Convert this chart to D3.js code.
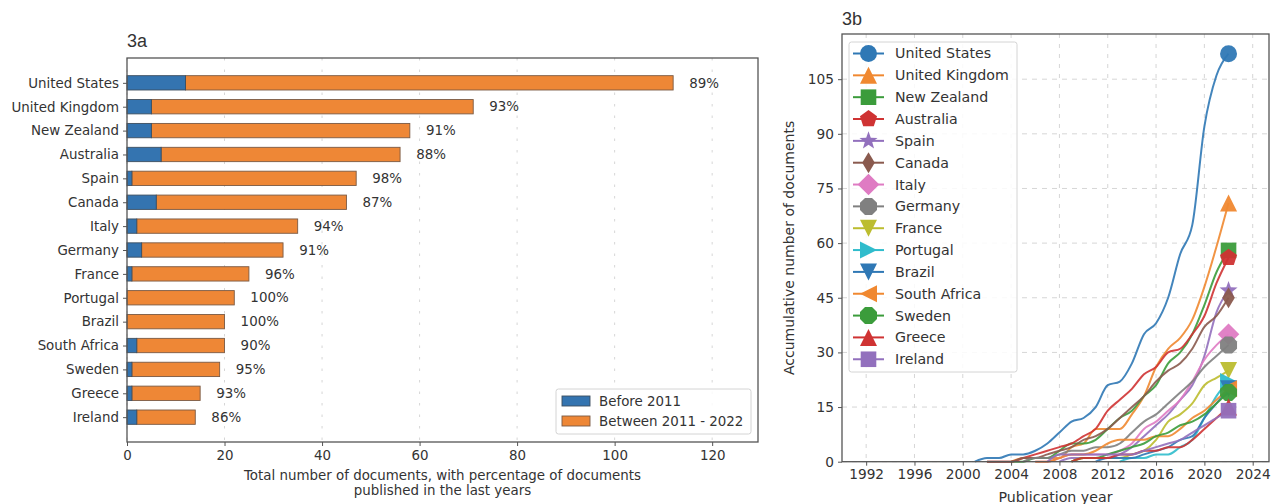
<!DOCTYPE html>
<html>
<head>
<meta charset="utf-8">
<script src="https://cdn.jsdelivr.net/npm/d3@7"></script>
<style>
  html, body { margin: 0; padding: 0; background: #fff; }
  svg { display: block; }
  text { font-family: "DejaVu Sans", sans-serif; fill: #333; }
</style>
</head>
<body>
<svg id="chart" width="1280" height="504"></svg>
<script>
// ---- 3a: documents per country ----
const countries = ["United States", "United Kingdom", "New Zealand", "Australia", "Spain",
  "Canada", "Italy", "Germany", "France", "Portugal", "Brazil", "South Africa",
  "Sweden", "Greece", "Ireland"];
const totalDocs = [112, 71, 58, 56, 47, 45, 35, 32, 25, 22, 20, 20, 19, 15, 14];
const before2011 = [12, 5, 5, 7, 1, 6, 2, 3, 1, 0, 0, 2, 1, 1, 2];
const barTicks = [0, 20, 40, 60, 80, 100, 120];

// ---- 3b: accumulative documents per year ----
const years = [2001, 2002, 2003, 2004, 2005, 2006, 2007, 2008, 2009, 2010, 2011,
  2012, 2013, 2014, 2015, 2016, 2017, 2018, 2019, 2020, 2021, 2022];
const cumUnitedStates = [0, 1, 1, 2, 2, 3, 5, 8, 11, 12, 15, 21, 22, 27, 35, 38, 45, 57, 65, 92, 106, 112];
const cumUnitedKingdom = [null, null, null, 0, 1, 1, 1, 1, 4, 5, 9, 9, 9, 13, 18, 26, 31, 34, 39, 48, 59, 71];
const cumNewZealand = [null, null, null, 0, 0, 1, 1, 3, 5, 5, 6, 9, 12, 14, 18, 21, 27, 30, 35, 43, 52, 58];
const cumAustralia = [null, 0, 0, 0, 1, 2, 3, 4, 5, 7, 9, 14, 17, 20, 24, 26, 30, 31, 35, 40, 49, 56];
const cumSpain = [null, null, null, null, null, null, null, 0, 1, 1, 1, 1, 2, 4, 7, 10, 13, 17, 21, 29, 41, 47];
const cumCanada = [null, 0, 0, 0, 1, 1, 2, 3, 4, 6, 7, 9, 12, 15, 18, 22, 25, 27, 31, 37, 40, 45];
const cumItaly = [null, null, null, null, null, 0, 0, 1, 2, 2, 2, 2, 3, 5, 9, 11, 14, 17, 22, 28, 32, 35];
const cumGermany = [null, null, null, null, 0, 1, 1, 2, 3, 3, 4, 4, 5, 8, 11, 13, 16, 19, 22, 26, 29, 32];
const cumFrance = [null, null, null, null, null, null, null, null, 0, 1, 1, 1, 1, 2, 3, 6, 11, 13, 16, 21, 23, 25];
const cumPortugal = [null, null, null, null, null, null, null, null, null, null, null, null, 0, 1, 1, 2, 2, 4, 6, 12, 18, 22];
const cumBrazil = [null, null, null, null, null, null, null, null, null, null, 0, 1, 1, 1, 2, 3, 4, 6, 7, 12, 16, 20];
const cumSouthAfrica = [null, null, null, null, null, 0, 0, 1, 2, 2, 3, 5, 6, 6, 6, 7, 7, 9, 12, 14, 17, 20];
const cumSweden = [null, null, null, null, null, null, null, null, 0, 1, 1, 2, 3, 4, 5, 7, 8, 10, 11, 13, 16, 19];
const cumGreece = [null, null, null, null, null, null, null, null, 0, 1, 1, 1, 2, 2, 3, 3, 4, 4, 6, 9, 12, 15];
const cumIreland = [null, null, null, null, null, null, 0, 2, 2, 2, 2, 2, 2, 2, 3, 4, 5, 6, 8, 10, 12, 14];
const yearTicks = [1992, 1996, 2000, 2004, 2008, 2012, 2016, 2020, 2024];
const countTicks = [0, 15, 30, 45, 60, 75, 90, 105];

const seriesValues = [cumUnitedStates, cumUnitedKingdom, cumNewZealand, cumAustralia, cumSpain,
  cumCanada, cumItaly, cumGermany, cumFrance, cumPortugal, cumBrazil, cumSouthAfrica,
  cumSweden, cumGreece, cumIreland];
const markerKinds = ["o", "^", "s", "p", "*", "d", "D", "8", "v", ">", "v", "<", "8", "^", "s"];
const palette = ["#2f78b5", "#f08830", "#3b9c3b", "#cf3333", "#9270bd", "#8a5a4e", "#df7bc3",
  "#808080", "#bcbd2f", "#2fbccc"];

const svg = d3.select("#chart");
const AXIS = "#555";

// ---------- marker shapes ----------
function polygon(points) {
  return "M" + points.map(p => p[0].toFixed(2) + "," + p[1].toFixed(2)).join("L") + "Z";
}
function regular(n, r, rot) {
  const pts = [];
  for (let i = 0; i < n; i++) {
    const a = rot + i * 2 * Math.PI / n;
    pts.push([r * Math.sin(a), -r * Math.cos(a)]);
  }
  return pts;
}
function markerPath(kind) {
  const h = 8.5;
  switch (kind) {
    case "o": return d3.symbol(d3.symbolCircle, Math.PI * h * h)();
    case "^": return polygon([[0, -h], [-h, h], [h, h]]);
    case "v": return polygon([[0, h], [-h, -h], [h, -h]]);
    case ">": return polygon([[h, 0], [-h, -h], [-h, h]]);
    case "<": return polygon([[-h, 0], [h, -h], [h, h]]);
    case "s": return polygon([[-7.8, -7.8], [7.8, -7.8], [7.8, 7.8], [-7.8, 7.8]]);
    case "p": return polygon(regular(5, 9, 0));
    case "*": {
      const pts = [];
      for (let i = 0; i < 10; i++) {
        const r = i % 2 === 0 ? 9.5 : 3.9;
        const a = i * Math.PI / 5;
        pts.push([r * Math.sin(a), -r * Math.cos(a)]);
      }
      return polygon(pts);
    }
    case "d": return polygon([[0, -10.5], [6.3, 0], [0, 10.5], [-6.3, 0]]);
    case "D": return polygon([[0, -10.8], [10.8, 0], [0, 10.8], [-10.8, 0]]);
    case "8": return polygon(regular(8, 9.2, Math.PI / 8));
  }
}

// =================== 3a ===================
{
  const left = 127, right = 758, top = 58, bottom = 442;
  const FS = 13.4;
  const x = d3.scaleLinear().domain([0, 129.4]).range([left, right]);
  const y = d3.scaleLinear().domain([-1.04, countries.length - 1 + 1.04]).range([top, bottom]);
  const step = y(1) - y(0);
  const barH = step * 0.6;

  const g = svg.append("g");

  // vertical grid
  g.append("g").selectAll("line").data(barTicks).join("line")
    .attr("x1", d => x(d)).attr("x2", d => x(d))
    .attr("y1", top).attr("y2", bottom)
    .attr("stroke", "#d6d6d6").attr("stroke-width", 1)
    .attr("stroke-dasharray", "2.5,9");

  const rows = countries.map((c, i) => ({
    c, i, total: totalDocs[i], before: before2011[i], after: totalDocs[i] - before2011[i]
  }));

  // later period, stacked after the earlier one
  g.append("g").selectAll("rect").data(rows).join("rect")
    .attr("x", d => x(d.before)).attr("width", d => x(d.total) - x(d.before))
    .attr("y", d => y(d.i) - barH / 2).attr("height", barH)
    .attr("fill", "#ee8736").attr("stroke", "#7a5a44").attr("stroke-width", 0.9);
  g.append("g").selectAll("rect").data(rows.filter(d => d.before > 0)).join("rect")
    .attr("x", x(0)).attr("width", d => x(d.before) - x(0))
    .attr("y", d => y(d.i) - barH / 2).attr("height", barH)
    .attr("fill", "#3474b0").attr("stroke", "#3d4f60").attr("stroke-width", 0.9);

  // share published in the last years
  g.append("g").selectAll("text").data(rows).join("text")
    .attr("x", d => x(d.total + 3.3)).attr("y", d => y(d.i))
    .attr("dy", "0.35em").attr("font-size", FS)
    .text(d => Math.round(d.after / d.total * 100) + "%");

  // axes
  const xAxis = g.append("g").attr("transform", `translate(0,${bottom})`)
    .call(d3.axisBottom(x).tickValues(barTicks).tickSize(4).tickPadding(4));
  const yAxis = g.append("g").attr("transform", `translate(${left},0)`)
    .call(d3.axisLeft(y).tickValues(d3.range(countries.length)).tickFormat(i => countries[i])
      .tickSize(4).tickPadding(4));
  [xAxis, yAxis].forEach(a => {
    a.select(".domain").remove();
    a.selectAll("line").attr("stroke", AXIS);
    a.selectAll("text").attr("font-size", FS).attr("fill", "#333")
      .style("font-family", "DejaVu Sans");
  });

  g.append("rect").attr("x", left).attr("y", top).attr("width", right - left)
    .attr("height", bottom - top).attr("fill", "none").attr("stroke", AXIS).attr("stroke-width", 1.3);

  // legend
  const lg = g.append("g").attr("transform", "translate(556,389)");
  lg.append("rect").attr("width", 195).attr("height", 45).attr("rx", 2.5)
    .attr("fill", "#fff").attr("fill-opacity", 0.85).attr("stroke", "#d4d4d4");
  [["Before 2011", "#3474b0", "#3d4f60"], ["Between 2011 - 2022", "#ee8736", "#7a5a44"]]
    .forEach(([label, fill, edge], k) => {
      lg.append("rect").attr("x", 6).attr("y", 7 + k * 20).attr("width", 28).attr("height", 10)
        .attr("fill", fill).attr("stroke", edge).attr("stroke-width", 0.9);
      lg.append("text").attr("x", 43).attr("y", 12 + k * 20).attr("dy", "0.35em")
        .attr("font-size", FS).text(label);
    });

  g.append("text").attr("x", left).attr("y", 47)
    .style("font-family", "Liberation Sans, Arial, sans-serif").attr("font-size", 18)
    .attr("fill", "#222").text("3a");

  const xl = g.append("text").attr("text-anchor", "middle").attr("font-size", 13.4);
  xl.append("tspan").attr("x", (left + right) / 2).attr("y", 480)
    .text("Total number of documents, with percentage of documents");
  xl.append("tspan").attr("x", (left + right) / 2).attr("y", 495)
    .text("published in the last years");
}

// =================== 3b ===================
{
  const left = 842, right = 1269, top = 34, bottom = 461.7;
  const x = d3.scaleLinear().domain([1990, 2025.35]).range([left, right]);
  const y = d3.scaleLinear().domain([0, 117.4]).range([bottom, top]);

  const g = svg.append("g");

  g.append("g").selectAll("line").data(yearTicks).join("line")
    .attr("x1", d => x(d)).attr("x2", d => x(d)).attr("y1", top).attr("y2", bottom)
    .attr("stroke", "#d6d6d6").attr("stroke-dasharray", "4,6");
  g.append("g").selectAll("line").data(countTicks).join("line")
    .attr("y1", d => y(d)).attr("y2", d => y(d)).attr("x1", left).attr("x2", right)
    .attr("stroke", "#d6d6d6").attr("stroke-dasharray", "5,5");

  const line = d3.line()
    .defined(d => d.v !== null)
    .x(d => x(d.year)).y(d => y(d.v))
    .curve(d3.curveMonotoneX);

  const series = countries.map((c, i) => ({
    c, i, color: palette[i % palette.length], kind: markerKinds[i],
    pts: years.map((yr, k) => ({ year: yr, v: seriesValues[i][k] }))
  }));

  series.forEach(s => {
    g.append("path").datum(s.pts).attr("d", line)
      .attr("fill", "none").attr("stroke", s.color).attr("stroke-width", 2)
      .attr("stroke-opacity", 0.9).attr("stroke-linejoin", "round");
  });
  series.forEach(s => {
    const last = s.pts[s.pts.length - 1];
    g.append("path").attr("d", markerPath(s.kind))
      .attr("transform", `translate(${x(last.year)},${y(last.v)})`)
      .attr("fill", s.color).attr("fill-opacity", 0.95);
  });

  const xAxis = g.append("g").attr("transform", `translate(0,${bottom})`)
    .call(d3.axisBottom(x).tickValues(yearTicks).tickFormat(d3.format("d")).tickSize(4).tickPadding(4));
  const yAxis = g.append("g").attr("transform", `translate(${left},0)`)
    .call(d3.axisLeft(y).tickValues(countTicks).tickSize(4).tickPadding(4));
  [xAxis, yAxis].forEach(a => {
    a.select(".domain").remove();
    a.selectAll("line").attr("stroke", AXIS);
    a.selectAll("text").attr("font-size", 13.7).attr("fill", "#333")
      .style("font-family", "DejaVu Sans");
  });

  g.append("rect").attr("x", left).attr("y", top).attr("width", right - left)
    .attr("height", bottom - top).attr("fill", "none").attr("stroke", AXIS).attr("stroke-width", 1.3);

  // legend
  const lg = g.append("g").attr("transform", "translate(849,42)");
  lg.append("rect").attr("width", 168).attr("height", 330).attr("rx", 2.5)
    .attr("fill", "#fff").attr("fill-opacity", 0.85).attr("stroke", "#d4d4d4");
  series.forEach((s, k) => {
    const cy = 11.5 + k * 21.84;
    lg.append("line").attr("x1", 4).attr("x2", 35).attr("y1", cy).attr("y2", cy)
      .attr("stroke", s.color).attr("stroke-width", 2);
    lg.append("path").attr("d", markerPath(s.kind))
      .attr("transform", `translate(19.5,${cy})`).attr("fill", s.color);
    lg.append("text").attr("x", 46).attr("y", cy).attr("dy", "0.35em")
      .attr("font-size", 14.2).text(s.c);
  });

  g.append("text").attr("x", left).attr("y", 25)
    .style("font-family", "Liberation Sans, Arial, sans-serif").attr("font-size", 18)
    .attr("fill", "#222").text("3b");

  g.append("text").attr("x", (left + right) / 2).attr("y", 502)
    .attr("text-anchor", "middle").attr("font-size", 14.2).text("Publication year");
  g.append("text").attr("transform", `translate(794,${(top + bottom) / 2}) rotate(-90)`)
    .attr("text-anchor", "middle").attr("font-size", 14).text("Accumulative number of documents");
}
</script>
</body>
</html>
